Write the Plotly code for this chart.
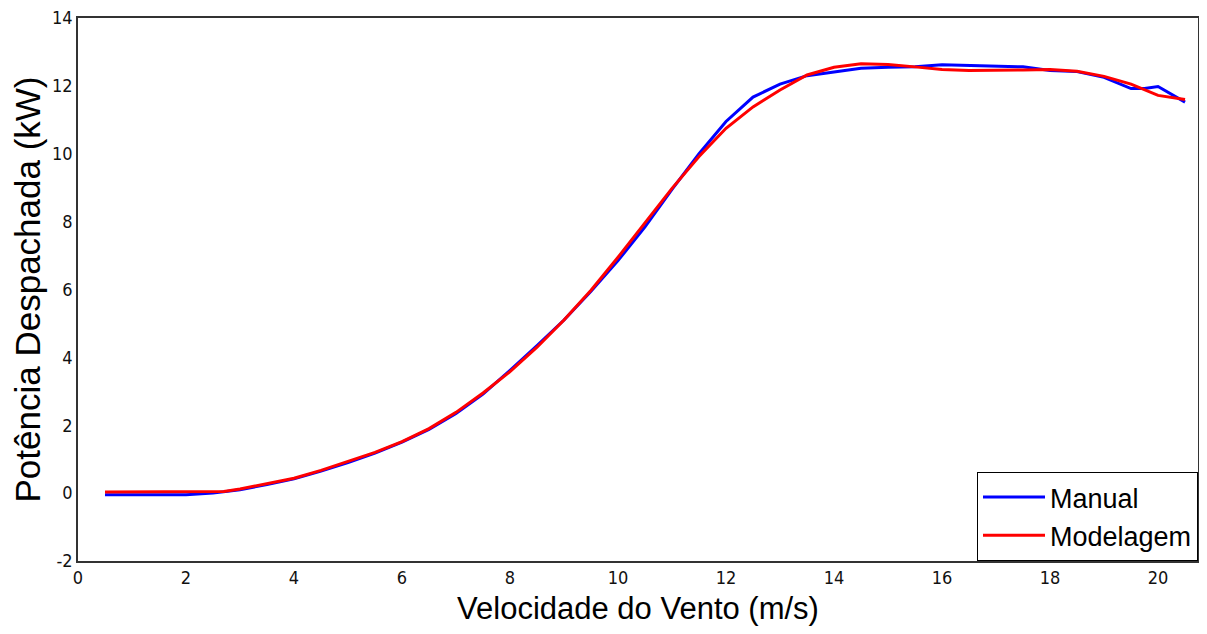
import plotly.graph_objects as go

# Manual (blue)
manual_x = [0.5, 1, 1.5, 2, 2.5, 3, 3.5, 4, 4.5, 5, 5.5, 6, 6.5, 7, 7.5, 8, 8.5, 9, 9.5, 10,
            10.5, 11, 11.5, 12, 12.5, 13, 13.5, 14, 14.5, 15, 15.5, 16, 16.5, 17, 17.5, 18,
            18.5, 19, 19.5, 19.75, 20, 20.5]
manual_y = [-0.05, -0.05, -0.05, -0.05, 0.0, 0.1, 0.25, 0.42, 0.65, 0.9, 1.18, 1.5, 1.88, 2.35,
            2.92, 3.62, 4.35, 5.1, 5.95, 6.85, 7.85, 8.95, 10.0, 10.95, 11.67, 12.05, 12.3,
            12.42, 12.52, 12.55, 12.56, 12.62, 12.6, 12.56, 12.56, 12.45, 12.42, 12.25, 11.92,
            11.92, 11.98, 11.52]

# Modelagem (red)
model_x = [0.5, 1, 1.5, 2, 2.5, 2.7, 3, 3.5, 4, 4.5, 5, 5.5, 6, 6.5, 7, 7.5, 8, 8.5, 9, 9.5, 10,
           10.5, 11, 11.5, 12, 12.5, 13, 13.5, 14, 14.5, 15, 15.5, 16, 16.5, 17, 17.5, 18,
           18.5, 19, 19.5, 20, 20.5]
model_y = [0.03, 0.03, 0.03, 0.03, 0.04, 0.05, 0.12, 0.27, 0.44, 0.67, 0.93, 1.2, 1.52, 1.9, 2.38,
           2.95, 3.58, 4.3, 5.1, 5.98, 6.95, 7.95, 8.98, 9.92, 10.75, 11.38, 11.88, 12.32,
           12.55, 12.65, 12.63, 12.56, 12.48, 12.45, 12.45, 12.47, 12.48, 12.43, 12.28,
           12.05, 11.72, 11.6]

x_ticks = [0, 2, 4, 6, 8, 10, 12, 14, 16, 18, 20]
y_ticks = [-2, 0, 2, 4, 6, 8, 10, 12, 14]

tick_font = dict(family="DejaVu Sans Condensed, Liberation Sans Narrow, Arial Narrow, sans-serif",
                 size=18, color="#111")

fig = go.Figure()
fig.add_trace(go.Scatter(x=manual_x, y=manual_y, mode="lines", name="Manual",
                         line=dict(color="#0000FF", width=3)))
fig.add_trace(go.Scatter(x=model_x, y=model_y, mode="lines", name="Modelagem",
                         line=dict(color="#FF0000", width=3)))

fig.update_layout(
    width=1191, height=618,
    margin=dict(l=70, r=1, t=10, b=65, autoexpand=False),
    paper_bgcolor="white", plot_bgcolor="white",
    showlegend=True,
    legend=dict(x=1, y=0, xanchor="right", yanchor="bottom",
                bordercolor="#000", borderwidth=1, bgcolor="white",
                font=dict(family="Liberation Sans, Arial", size=27, color="#000"),
                itemwidth=62),
    xaxis=dict(range=[0, 20.74], tickvals=x_ticks, ticktext=[str(v) for v in x_ticks],
               showgrid=False, zeroline=False, showline=True, mirror=True,
               linecolor="#333", linewidth=1.5, ticks="", tickfont=tick_font,
               automargin=False, ticklabeloverflow="allow",
               title=dict(text="Velocidade do Vento (m/s)",
                          font=dict(family="Liberation Sans, Arial", size=31, color="#000"),
                          standoff=12)),
    yaxis=dict(range=[-2, 14], tickvals=y_ticks, ticktext=[str(v) for v in y_ticks],
               showgrid=False, zeroline=False, showline=True, mirror=True,
               linecolor="#333", linewidth=1.5, ticks="", tickfont=tick_font,
               automargin=False, ticklabeloverflow="allow",
               title=dict(text="Potência Despachada (kW)",
                          font=dict(family="Liberation Sans, Arial", size=35, color="#000"),
                          standoff=3)),
)

fig.write_html("out.html")
